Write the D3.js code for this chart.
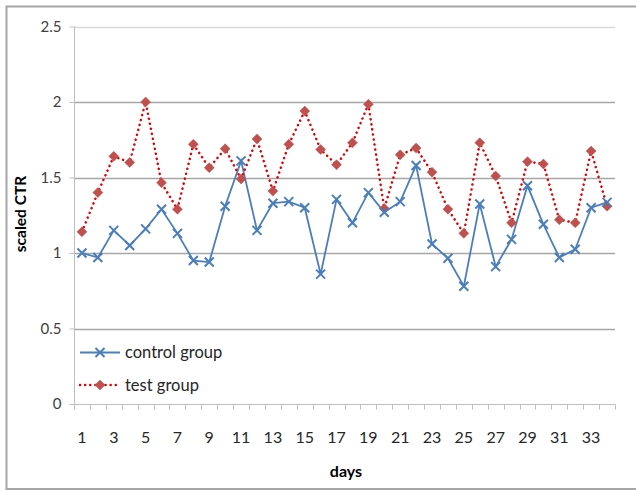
<!DOCTYPE html>
<html><head><meta charset="utf-8">
<script src="https://cdn.jsdelivr.net/npm/d3@7"></script>
<style>body{margin:0;background:#fff}svg{display:block}text{font-family:Lato,"Liberation Sans",Arial,sans-serif}</style>
</head><body><svg id="c" width="636" height="491"></svg>
<script>
const days = d3.range(1, 35);
const controlGroup = [1.00,0.97,1.15,1.05,1.16,1.29,1.13,0.95,0.94,1.31,1.61,1.15,1.33,1.34,1.30,0.86,1.355,1.20,1.40,1.27,1.34,1.58,1.06,0.965,0.78,1.325,0.91,1.09,1.445,1.19,0.97,1.025,1.30,1.335];
const testGroup = [1.14,1.40,1.64,1.60,2.00,1.465,1.29,1.72,1.565,1.69,1.49,1.755,1.41,1.72,1.94,1.685,1.585,1.73,1.985,1.295,1.65,1.695,1.535,1.29,1.13,1.73,1.51,1.20,1.605,1.59,1.22,1.20,1.675,1.31];
const yTicks = [0,0.5,1,1.5,2,2.5];
const yTickLabels = ["0","0.5","1","1.5","2","2.5"];
const seriesNames = ["control group","test group"];
const yTitle = "scaled CTR", xTitle = "days";

const svg = d3.select("#c");
svg.append("rect").attr("x",6.5).attr("y",6.5).attr("width",640).attr("height",482.5)
  .attr("fill","none").attr("stroke","#a6a6a6").attr("stroke-width",2);

const x = d3.scaleBand().domain(days).range([74,615]);
const y = d3.scaleLinear().domain([0,2.5]).range([404,26.5]);

// gridlines
svg.append("g").selectAll("line").data(yTicks.slice(1)).join("line")
  .attr("x1",74).attr("x2",615).attr("y1",d=>Math.round(y(d))+0.5).attr("y2",d=>Math.round(y(d))+0.5)
  .attr("stroke",(d,i)=>i===yTicks.length-2?"#d9d9d9":"#a6a6a6").attr("stroke-width",1.5);

// y axis
const ya = svg.append("g").attr("transform","translate(74.5,0)")
  .call(d3.axisLeft(y).tickValues(yTicks).tickFormat((d,i)=>yTickLabels[i]).tickSize(5).tickPadding(8));
ya.select(".domain").attr("stroke","#bfbfbf").attr("d","M0,"+y(2.5)+"V"+(y(0)+0.5));
ya.selectAll(".tick line").attr("stroke","#bfbfbf");
ya.selectAll(".tick text").attr("font-size",15).attr("fill","#404040").attr("font-family","Lato,'Liberation Sans',Arial,sans-serif");

// x axis
const xa = svg.append("g").attr("transform","translate(0,"+(Math.round(y(0))+0.5)+")");
xa.append("line").attr("x1",74).attr("x2",615.5).attr("stroke","#bfbfbf");
const bounds = days.map(d=>x(d)).concat([x(34)+x.bandwidth()]);
xa.selectAll("line.t").data(bounds).join("line").attr("class","t")
  .attr("x1",d=>Math.round(d)+0.5).attr("x2",d=>Math.round(d)+0.5).attr("y1",0).attr("y2",5).attr("stroke","#bfbfbf");
xa.selectAll("text").data(days.filter(d=>d%2===1)).join("text")
  .attr("x",d=>x(d)+x.bandwidth()/2).attr("y",38).attr("text-anchor","middle")
  .attr("font-size",16).attr("fill","#262626").text(d=>d);

// titles
svg.append("text").attr("transform","translate(26,214) rotate(-90)").attr("text-anchor","middle")
  .attr("font-size",15.5).attr("font-weight","bold").attr("fill","#000").text(yTitle);
svg.append("text").attr("x",346).attr("y",477).attr("text-anchor","middle")
  .attr("font-size",16).attr("font-weight","bold").attr("fill","#000").text(xTitle);

const cx = d=>x(d)+x.bandwidth()/2;
const line = d3.line().x((v,i)=>cx(days[i])).y(v=>y(v));

// control line
svg.append("path").attr("d",line(controlGroup)).attr("fill","none").attr("stroke","#4a7ebb").attr("stroke-width",1.8);
// test line dotted
svg.append("path").attr("d",line(testGroup)).attr("fill","none").attr("stroke","#e00000")
  .attr("stroke-width",2.5).attr("stroke-linecap","round").attr("stroke-dasharray","0.1 5");

const xMark = (g,px,py)=>{const s=4.5;g.append("path").attr("d",`M${px-s},${py-s}L${px+s},${py+s}M${px-s},${py+s}L${px+s},${py-s}`)
  .attr("stroke","#4a7ebb").attr("stroke-width",2).attr("fill","none");};
const dMark = (g,px,py)=>{const s=5;g.append("path").attr("d",`M${px},${py-s}L${px+s},${py}L${px},${py+s}L${px-s},${py}Z`)
  .attr("fill","#c0504d").attr("stroke","#c0504d").attr("stroke-width",0.5);};

const mg = svg.append("g");
testGroup.forEach((v,i)=>dMark(mg,cx(days[i]),y(v)));
controlGroup.forEach((v,i)=>xMark(mg,cx(days[i]),y(v)));

// legend
const lg = svg.append("g");
lg.append("line").attr("x1",80).attr("x2",120).attr("y1",352.5).attr("y2",352.5).attr("stroke","#4a7ebb").attr("stroke-width",1.8);
xMark(lg,100,352.5);
lg.append("text").attr("x",125).attr("y",358).attr("font-size",16.5).attr("fill","#262626").text(seriesNames[0]);
lg.append("line").attr("x1",80).attr("x2",120).attr("y1",385).attr("y2",385).attr("stroke","#e00000")
  .attr("stroke-width",2.5).attr("stroke-linecap","round").attr("stroke-dasharray","0.1 5");
dMark(lg,100,385);
lg.append("text").attr("x",125).attr("y",390.5).attr("font-size",16.5).attr("fill","#262626").text(seriesNames[1]);
</script></body></html>
